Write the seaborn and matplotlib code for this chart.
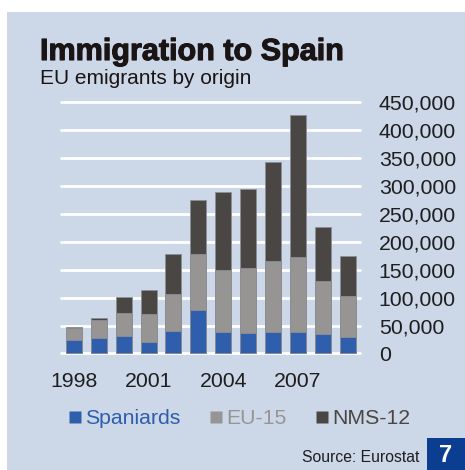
import numpy as np
import pandas as pd
import matplotlib
matplotlib.use("Agg")
import matplotlib.pyplot as plt
from matplotlib.patches import Rectangle
from matplotlib.lines import Line2D
from matplotlib.ticker import FuncFormatter
import matplotlib.patheffects as pe
import seaborn as sns

# EU immigration to Spain by origin, 1998-2009
years = [str(y) for y in range(1998, 2010)]
spaniards = [24000, 28000, 32000, 20500, 40000, 78000, 38500, 36000, 38000, 38000, 34500, 29500]
eu15 = [21500, 32000, 40000, 50000, 66000, 100000, 111000, 117000, 127000, 134000, 95000, 74000]
nms12 = [2500, 3500, 29500, 43000, 71500, 96500, 138500, 141000, 176500, 254000, 97000, 71000]
series_names = ["Spaniards", "EU-15", "NMS-12"]
year_ticks = ["1998", "2001", "2004", "2007"]
y_ticks = list(range(0, 450001, 50000))

colors = {"Spaniards": "#2F5FAC", "EU-15": "#979593", "NMS-12": "#4A4644"}
panel_bg = "#CCD7E8"

sns.set_theme(style="white")
plt.rcParams["font.family"] = ["Liberation Sans", "DejaVu Sans"]

df = pd.DataFrame({"year": years, "Spaniards": spaniards, "EU-15": eu15, "NMS-12": nms12})
df["c1"] = df["Spaniards"]
df["c2"] = df["c1"] + df["EU-15"]
df["c3"] = df["c2"] + df["NMS-12"]

fig = plt.figure(figsize=(4.65, 4.70), dpi=100, facecolor="white")
fig.patches.append(Rectangle((7 / 465, 0), 1, (470 - 12) / 470, transform=fig.transFigure,
                             facecolor=panel_bg, edgecolor="none", zorder=-2))

ax = fig.add_axes([61 / 465, (470 - 356) / 470, 299 / 465, 257 / 470])
ax.set_facecolor("none")

# Stacked bars drawn as overlapping cumulative layers
for col, name in [("c3", "NMS-12"), ("c2", "EU-15"), ("c1", "Spaniards")]:
    sns.barplot(data=df, x="year", y=col, color=colors[name], width=0.64,
                edgecolor="#8C8E94", linewidth=0.6, saturation=1, ax=ax, zorder=3)

ax.set_xlim(-0.52, 11.5)
ax.set_ylim(-4470, 454800)
ax.set_yticks(y_ticks)
ax.yaxis.set_major_formatter(FuncFormatter(lambda v, p: f"{int(v):,}"))
ax.yaxis.tick_right()
ax.tick_params(axis="y", length=0, pad=13.5, labelsize=15.3, labelcolor="#1E1E1E")
ax.set_xticks([years.index(t) for t in year_ticks])
ax.set_xticklabels(year_ticks)
ax.tick_params(axis="x", length=0, pad=11.5, labelsize=15.3, labelcolor="#1E1E1E")
ax.set_xlabel("")
ax.set_ylabel("")
for s in ax.spines.values():
    s.set_visible(False)
ax.grid(axis="y", color="white", linewidth=2, zorder=1)
ax.grid(axis="x", visible=False)
for gl in ax.get_ygridlines():
    gl.set_clip_on(False)

handles = [Line2D([], [], marker="s", linestyle="none", markersize=8.3,
                  markerfacecolor=colors[n], markeredgecolor="none") for n in series_names]
fig.legend(handles, series_names, loc="center left", bbox_to_anchor=(70 / 465, 1 - 419 / 470),
           ncol=3, frameon=False, fontsize=15.3, handlelength=0.5, handletextpad=0.2,
           columnspacing=1.45, borderpad=0, borderaxespad=0,
           labelcolor=[colors[n] for n in series_names])

fig.text(40 / 465, 1 - 60 / 470, "Immigration to Spain", fontsize=22, fontweight="bold",
         color="#1A1414", ha="left", va="baseline",
         path_effects=[pe.withStroke(linewidth=0.8, foreground="#1A1414")])
fig.text(40 / 465, 1 - 84 / 470, "EU emigrants by origin", fontsize=15, color="#1A1414",
         ha="left", va="baseline")

fig.text(419 / 465, 1 - 462 / 470, "Source: Eurostat", fontsize=11.3, color="#1E1E1E",
         ha="right", va="baseline")
fig.patches.append(Rectangle((427 / 465, 0), 38 / 465, 32 / 470, transform=fig.transFigure,
                             facecolor="#0B3D91", edgecolor="none", zorder=1))
fig.text(446 / 465, 1 - 455 / 470, "7", fontsize=17, fontweight="bold", color="white",
         ha="center", va="center")

fig.savefig("out.png", dpi=100, facecolor="white")
